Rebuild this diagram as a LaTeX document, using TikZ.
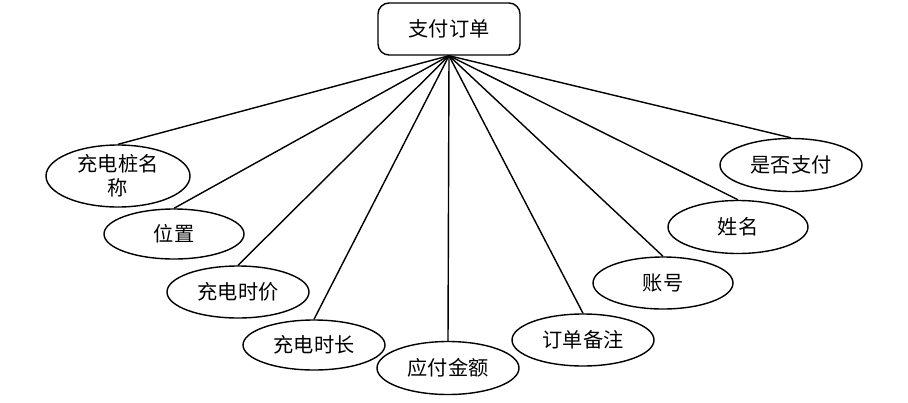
\documentclass[tikz,border=0pt]{standalone}
\usepackage{fontspec}
\setmainfont{Noto Sans CJK SC}
\usetikzlibrary{shapes.geometric}

\begin{document}
\begin{tikzpicture}[font=\fontsize{11.5}{13.5}\selectfont,
  ent/.style={draw,line width=0.8pt,rounded corners=0.22cm,
    minimum width=2.84cm,minimum height=1.04cm,inner sep=0pt},
  attr/.style={draw,ellipse,line width=0.8pt,
    minimum width=2.84cm,minimum height=1.04cm,inner sep=0pt},
  lnk/.style={line width=0.8pt},
]
\useasboundingbox (0,0) rectangle (18.16,8.04);

% Entity
\node[ent] (order) at (8.98,7.46) {支付订单};

% Attributes
\node[attr,minimum width=2.88cm,minimum height=1.24cm,align=center]
  (name) at (2.36,4.52) {充电桩名\\称};
\node[attr,minimum width=2.8cm,minimum height=1.0cm] (pos) at (3.48,3.36) {位置};
\node[attr] (price) at (4.76,2.20) {充电时价};
\node[attr,minimum height=1.0cm] (dur) at (6.28,1.14) {充电时长};
\node[attr,minimum height=1.06cm] (amount) at (8.96,0.68) {应付金额};
\node[attr] (note) at (11.66,1.24) {订单备注};
\node[attr,minimum width=2.8cm] (acct) at (13.26,2.38) {账号};
\node[attr,minimum width=2.8cm,minimum height=1.06cm] (user) at (14.76,3.50) {姓名};
\node[attr,minimum height=1.06cm] (paid) at (15.82,4.74) {是否支付};

% Links (each ends at the top of its attribute)
\foreach \a in {name,pos,price,dur,amount,note,acct,user,paid}
  \draw[lnk] (order.south) -- (\a.north);

\end{tikzpicture}
\end{document}
